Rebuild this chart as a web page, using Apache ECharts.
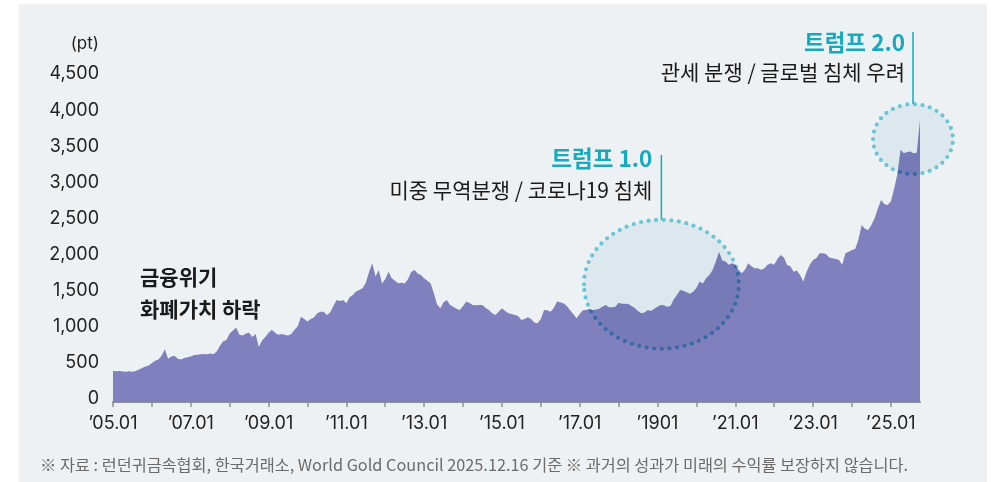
<!DOCTYPE html>
<html>
<head>
<meta charset="utf-8">
<script src="https://cdn.jsdelivr.net/npm/echarts@6/dist/echarts.min.js"></script>
<style>
  html, body { margin: 0; padding: 0; background: #fff; }
  #chart { width: 1001px; height: 482px; }
</style>
</head>
<body>
<div id="chart"></div>
<script>
// monthly gold index (pt), Jan..Dec
const v2005 = [430, 425, 428, 422, 418, 425, 420, 430, 450, 470, 490, 505];
const v2006 = [540, 570, 590, 640, 730, 600, 630, 640, 600, 590, 610, 620];
const v2007 = [630, 650, 655, 660, 665, 660, 670, 660, 700, 780, 840, 860];
const v2008 = [950, 990, 1030, 930, 920, 950, 960, 900, 940, 760, 850, 900];
const v2009 = [960, 1000, 960, 930, 940, 930, 920, 940, 1000, 1050, 1180, 1150];
const v2010 = [1113, 1150, 1170, 1230, 1250, 1250, 1205, 1240, 1330, 1413, 1400, 1413];
const v2011 = [1367, 1450, 1482, 1530, 1551, 1574, 1650, 1800, 1920, 1736, 1828, 1640];
const v2012 = [1700, 1805, 1713, 1680, 1643, 1650, 1640, 1700, 1800, 1828, 1780, 1759];
const v2013 = [1713, 1680, 1643, 1505, 1350, 1297, 1380, 1413, 1343, 1320, 1290, 1274];
const v2014 = [1330, 1390, 1370, 1343, 1340, 1343, 1343, 1300, 1274, 1230, 1205, 1250];
const v2015 = [1297, 1260, 1228, 1220, 1205, 1190, 1136, 1150, 1173, 1150, 1100, 1090];
const v2016 = [1150, 1274, 1270, 1250, 1300, 1390, 1380, 1366, 1330, 1274, 1220, 1159];
const v2017 = [1220, 1270, 1274, 1290, 1270, 1280, 1290, 1320, 1343, 1311, 1311, 1320];
const v2018 = [1375, 1360, 1360, 1357, 1330, 1300, 1260, 1228, 1240, 1274, 1260, 1290];
const v2019 = [1320, 1343, 1340, 1320, 1330, 1420, 1480, 1551, 1540, 1520, 1500, 1528];
const v2020 = [1580, 1667, 1640, 1713, 1760, 1828, 1944, 2082, 1960, 1944, 1900, 1921];
const v2021 = [1900, 1830, 1782, 1830, 1921, 1880, 1851, 1851, 1830, 1851, 1900, 1920];
const v2022 = [1900, 1980, 2036, 2000, 1897, 1880, 1805, 1820, 1760, 1667, 1805, 1900];
const v2023 = [1967, 1990, 2059, 2059, 2050, 2000, 1990, 1980, 1967, 1900, 2059, 2080];
const v2024 = [2105, 2120, 2250, 2451, 2400, 2382, 2450, 2544, 2680, 2798, 2740, 2729];
const v2025 = [2775, 2950, 3150, 3491, 3444, 3460, 3468, 3444, 3450, 3906];

const firstYear = 2005;
const yearlyValues = [v2005, v2006, v2007, v2008, v2009, v2010, v2011, v2012, v2013, v2014,
  v2015, v2016, v2017, v2018, v2019, v2020, v2021, v2022, v2023, v2024, v2025];

const xTickYears = [2005, 2006, 2007, 2008, 2009, 2010, 2011, 2012, 2013, 2014, 2015,
  2016, 2017, 2018, 2019, 2020, 2021, 2022, 2023, 2024, 2025];
const xLabelYears = [2005, 2007, 2009, 2011, 2013, 2015, 2017, 2019, 2021, 2023, 2025];
const xLabelText = ['’05.01', '’07.01', '’09.01', '’11.01', '’13.01', '’15.01',
  '’17.01', '’1901', '’21.01', '’23.01', '’25.01'];

const NUM_FONT = 'Inter, "Noto Sans CJK KR", sans-serif';
const KR_FONT = '"Noto Sans CJK KR", sans-serif';
const TEAL = '#17a9bd';

const seriesData = [];
yearlyValues.forEach(function (vals, k) {
  vals.forEach(function (v, m) {
    seriesData.push([firstYear + k + m / 12, v]);
  });
});

const chart = echarts.init(document.getElementById('chart'), null, { renderer: 'canvas' });

chart.setOption({
  animation: false,
  backgroundColor: '#ffffff',
  grid: { left: 113, right: 81, top: 77, bottom: 80 },
  xAxis: {
    type: 'value', min: 2005, max: 2025.75, interval: 1,
    axisLine: { lineStyle: { color: '#8d9096', width: 2 } },
    axisTick: { customValues: xTickYears, length: 5, lineStyle: { color: '#8d9096', width: 1.5 } },
    axisLabel: {
      customValues: xLabelYears,
      formatter: function (v) { return xLabelText[xLabelYears.indexOf(v)]; },
      color: '#222', fontSize: 18, fontFamily: NUM_FONT, margin: 13
    },
    splitLine: { show: false }
  },
  yAxis: {
    type: 'value', min: 0, max: 4500, interval: 500,
    name: '(pt)', nameLocation: 'end', nameGap: 33,
    nameTextStyle: { color: '#222', fontSize: 17, fontFamily: NUM_FONT, align: 'right',
      verticalAlign: 'middle', padding: [0, 14, 0, 0] },
    axisLine: { show: false }, axisTick: { show: false }, splitLine: { show: false },
    axisLabel: {
      formatter: function (v) { return v.toLocaleString('en-US'); },
      color: '#222', fontSize: 18, fontFamily: NUM_FONT, margin: 14,
      verticalAlign: 'bottom', lineHeight: 6
    }
  },
  series: [{
    type: 'line', data: seriesData, symbol: 'none', silent: true,
    lineStyle: { width: 0 },
    areaStyle: { color: '#7f80bd', opacity: 1 }
  }]
});

// annotation anchors in data space
const c1 = chart.convertToPixel({ gridIndex: 0 }, [2019.1, 1630]);
const c2 = chart.convertToPixel({ gridIndex: 0 }, [2025.57, 3640]);
const e1 = { rx: 77.5, ry: 64.5 };
const e2 = { rx: 40, ry: 35 };

function ring(c, e) {
  return {
    type: 'ellipse', z: 100, silent: true,
    shape: { cx: c[0], cy: c[1], rx: e.rx, ry: e.ry },
    style: { fill: '#edf6f9', stroke: '#74d6e2', lineWidth: 4.2, lineDash: [0, 7.6],
      lineCap: 'round', blend: 'multiply' }
  };
}
function txt(x, y, text, size, weight, color, align, font) {
  return {
    type: 'text', x: x, y: y, z: 110, silent: true,
    style: { text: text, fill: color, fontSize: size, fontWeight: weight,
      fontFamily: font || KR_FONT, align: align, verticalAlign: 'middle' }
  };
}

chart.setOption({
  graphic: [
    { type: 'rect', z: -10, silent: true, shape: { x: 19, y: 4, width: 968, height: 478 },
      style: { fill: '#eef1f4' } },
    ring(c1, e1),
    ring(c2, e2),
    { type: 'line', z: 105, silent: true,
      shape: { x1: c1[0], y1: c1[1] - e1.ry, x2: c1[0], y2: 155 },
      style: { stroke: TEAL, lineWidth: 1.5 } },
    { type: 'line', z: 105, silent: true,
      shape: { x1: c2[0], y1: c2[1] - e2.ry, x2: c2[0], y2: 32 },
      style: { stroke: TEAL, lineWidth: 1.5 } },
    txt(c1[0] - 9, 158, '트럼프 1.0', 22.5, 'bold', TEAL, 'right'),
    txt(c1[0] - 9, 190, '미중 무역분쟁 / 코로나19 침체', 21, 'normal', '#1a1a1a', 'right'),
    txt(c2[0] - 8, 42, '트럼프 2.0', 22.5, 'bold', TEAL, 'right'),
    txt(c2[0] - 8, 72, '관세 분쟁 / 글로벌 침체 우려', 21, 'normal', '#1a1a1a', 'right'),
    txt(140, 277, '금융위기', 21, 'bold', '#1a1a1a', 'left'),
    txt(140, 309, '화폐가치 하락', 21, 'bold', '#1a1a1a', 'left'),
    txt(40, 465, '※ 자료 : 런던귀금속협회, 한국거래소, World Gold Council 2025.12.16 기준 ※ 과거의 성과가 미래의 수익률 보장하지 않습니다.',
      16.3, 'normal', '#6b6b6b', 'left')
  ]
});
</script>
</body>
</html>
